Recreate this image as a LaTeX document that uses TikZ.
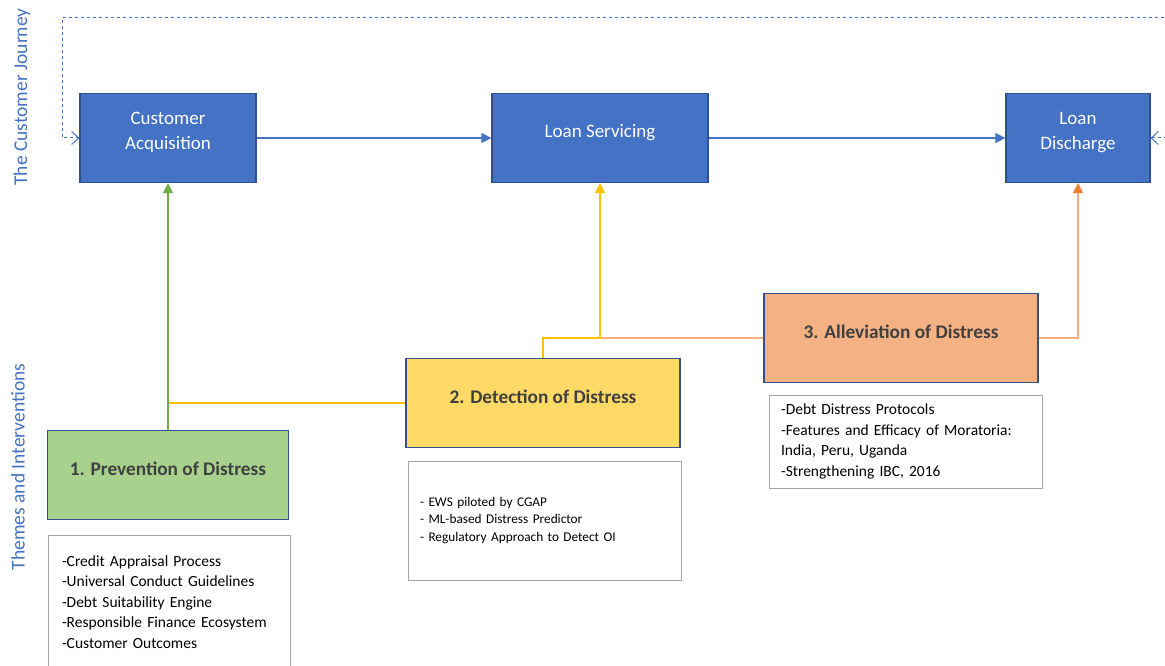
\documentclass[tikz,border=0pt]{standalone}
\usepackage{fontspec}
\setmainfont{Carlito}
\usetikzlibrary{arrows.meta,positioning,calc}
\definecolor{stageB}{HTML}{4472C4}
\definecolor{edgeB}{HTML}{2F528F}
\definecolor{preventG}{HTML}{A9D18E}
\definecolor{arrowG}{HTML}{70AD47}
\definecolor{detectY}{HTML}{FFD966}
\definecolor{arrowY}{HTML}{FFC000}
\definecolor{alleviO}{HTML}{F4B183}
\definecolor{arrowO}{HTML}{ED7D31}
\definecolor{lineO}{HTML}{F5AF80}
\definecolor{textD}{HTML}{404040}
\definecolor{listG}{HTML}{A6A6A6}
\tikzset{
  stage/.style={rectangle, draw=edgeB, line width=1.2pt, fill=stageB, text=white,
                align=center, font=\fontsize{19}{25}\selectfont, minimum height=89pt},
  theme/.style={rectangle, draw=edgeB, line width=1.2pt, fill=#1, text=textD,
                font=\fontsize{19.3}{23}\selectfont\bfseries, minimum width=274pt,
                minimum height=89pt, text depth=13pt},
  listbox/.style={rectangle, draw=listG, line width=0.8pt, align=left, inner xsep=12pt},
  arr/.style={-{Triangle[length=10pt,width=10pt]}, line width=1.3pt, draw=#1},
  arrO/.style={-{Triangle[length=10pt,width=10pt,color=arrowO]}, line width=1.3pt, draw=lineO},
  link/.style={line width=1.3pt, draw=#1},
  journey/.style={{Straight Barb[length=7pt,width=13pt]}-{Straight Barb[length=7pt,width=13pt]},
                  dash pattern=on 3.5pt off 2.5pt, line width=1pt, draw=stageB},
  side/.style={rotate=90, text=stageB, font=\fontsize{19.5}{23}\selectfont},
}
\begin{document}
\begin{tikzpicture}[x=1pt, y=-1pt]
  \useasboundingbox (0,0) rectangle (1165,666);
  \node[side] (journeyL) at (22,97) {The Customer Journey};
  \node[side] (themesL) at (18,467) {Themes and Interventions};

  \node[stage, minimum width=176pt, text depth=15pt] (acq) at (168,138) {Customer\\Acquisition};
  \node[stage, minimum width=216pt, text depth=14pt] (serv) at (600,138) {Loan Servicing};
  \node[stage, minimum width=144pt, text depth=15pt] (disc) at (1078,138) {Loan\\Discharge};

  \node[theme=preventG, minimum width=241pt] (prev) at (168,475) {1. Prevention of Distress};
  \node[theme=detectY] (det) at (543,403) {2. Detection of Distress};
  \node[theme=alleviO] (allev) at (901,338) {3. Alleviation of Distress};

  \node[listbox, inner xsep=14pt, text width=214pt, minimum height=134pt,
        font=\fontsize{15.5}{20.5}\selectfont] (prevList) at (169,602)
    {-Credit Appraisal Process\\-Universal Conduct Guidelines\\-Debt Suitability Engine\\-Responsible Finance Ecosystem\\-Customer Outcomes};
  \node[listbox, text width=249pt, minimum height=119pt,
        font=\fontsize{13.3}{17.5}\selectfont] (detList) at (544.5,520.5)
    {- EWS piloted by CGAP\\- ML-based Distress Predictor\\- Regulatory Approach to Detect OI};
  \node[listbox, text width=249pt, minimum height=93pt,
        font=\fontsize{15.5}{20.5}\selectfont] (allevList) at (905.5,441.5)
    {-Debt Distress Protocols\\-Features and Efficacy of Moratoria:\\India, Peru, Uganda\\-Strengthening IBC, 2016};

  \coordinate (joinG) at (prev.north |- det.west);
  \coordinate (joinY) at (serv.south |- allev.west);
  \coordinate (loopR) at (1185,18);
  \coordinate (loopL) at (62,18);

  \draw[link=arrowY] (det.west) -- (joinG);
  \draw[arr=arrowG] (prev.north) -- (acq.south);
  \draw[link=lineO] (allev.west) -- (joinY);
  \draw[arr=arrowY] (det.north) |- (joinY) -- (serv.south);
  \draw[arrO] (allev.east) -| (disc.south);
  \draw[arr=stageB] (acq) -- (serv);
  \draw[arr=stageB] (serv) -- (disc);
  \draw[journey] (disc.east) -| (loopR) -- (loopL) |- (acq.west);
\end{tikzpicture}
\end{document}
